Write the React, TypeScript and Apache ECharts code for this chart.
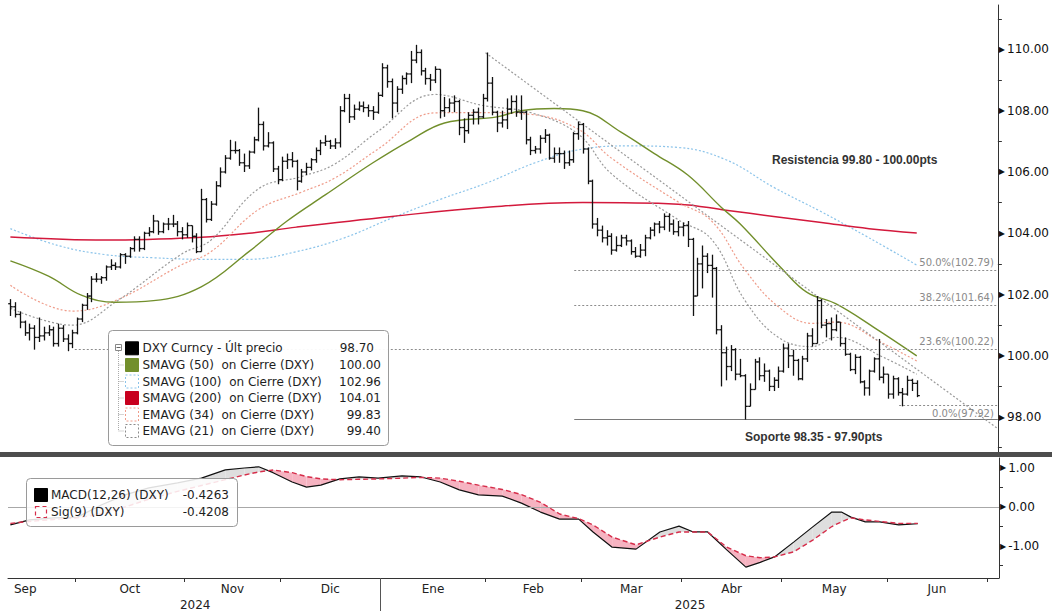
import React, { useEffect, useRef } from 'react';
import * as echarts from 'echarts';

// ---- price bars (trading-day index 0 = 11 Sep 2024) ----
const opens = [101.70,101.60,101.35,101.10,100.75,100.90,100.60,100.65,100.75,100.85,100.40,100.90,100.55,100.40,
100.75,101.20,101.65,101.95,102.50,102.50,102.55,102.90,102.95,102.90,103.30,103.25,103.50,103.80,103.50,104.00,104.05,104.40,104.05,104.30,104.30,104.30,104.05,
103.95,104.25,103.90,103.40,105.10,104.45,104.95,105.55,106.00,106.45,106.70,106.70,106.30,106.20,106.65,107.05,107.55,106.85,106.95,106.10,
105.75,106.35,106.40,106.35,105.70,106.00,106.15,106.40,106.70,106.95,107.00,106.85,106.95,108.00,108.40,107.80,108.05,108.15,108.10,108.00,107.95,
108.50,109.40,108.95,108.25,108.70,109.05,109.20,109.65,109.90,109.30,109.05,109.00,109.35,108.00,108.10,108.25,108.30,107.45,107.35,107.85,107.95,107.80,
108.40,108.90,107.95,107.60,107.70,108.05,108.30,107.95,107.95,107.05,106.70,106.75,107.10,107.20,106.45,106.60,106.60,106.30,106.40,107.25,
107.55,106.75,105.70,104.30,104.10,103.85,103.90,103.45,103.60,103.85,103.75,103.40,103.25,103.45,103.85,104.10,104.30,104.20,104.55,104.30,104.05,
104.20,104.25,103.80,101.95,103.00,103.25,102.95,102.85,100.85,100.10,99.65,100.20,99.40,99.35,98.35,98.90,99.80,99.35,99.50,99.00,99.20,
99.50,100.25,100.00,99.85,99.25,99.90,100.65,100.40,101.80,101.00,101.05,100.85,101.10,100.40,100.05,99.55,99.95,99.15,98.95,99.50,99.90,99.30,
99.40,98.75,99.25,98.80,98.75,99.20,99.10];
const highs = [101.85,101.75,101.45,101.15,101.05,101.00,101.25,100.95,101.00,100.95,101.05,101.00,100.70,100.85,
101.25,101.70,102.05,102.60,102.70,102.60,102.95,103.15,103.05,103.35,103.35,103.55,103.90,103.90,104.05,104.20,104.60,104.40,104.35,104.50,104.60,104.40,104.20,
104.35,104.25,104.00,105.45,105.15,105.05,105.70,106.15,106.55,107.05,107.00,106.75,106.60,106.70,107.15,108.10,107.65,107.30,107.00,106.20,
106.50,106.60,106.65,106.40,106.10,106.30,106.45,106.80,107.05,107.20,107.05,107.10,108.15,108.55,108.55,108.20,108.30,108.30,108.20,108.15,108.60,
109.55,109.50,109.05,108.80,109.15,109.25,109.95,110.15,110.00,109.40,109.20,109.45,109.35,108.45,108.40,108.50,108.35,107.75,107.95,108.05,108.10,108.55,
109.90,109.10,108.00,108.00,108.40,108.50,108.50,108.50,108.00,107.15,106.85,107.20,107.40,107.25,106.80,106.80,106.70,106.70,107.30,107.65,
107.60,106.80,105.75,104.50,104.25,104.10,104.00,103.90,103.95,103.95,103.80,103.55,103.65,103.95,104.20,104.35,104.40,104.65,104.65,104.45,104.40,
104.35,104.40,103.85,103.20,103.60,103.35,103.30,102.90,101.00,100.30,100.35,100.25,99.90,99.40,99.10,99.90,99.95,99.75,99.55,99.30,99.65,
100.40,100.40,100.20,99.90,100.00,100.75,100.90,101.95,101.85,101.20,101.25,101.35,101.10,100.60,100.10,100.05,100.00,99.20,99.55,99.95,100.55,99.65,
99.40,99.35,99.30,98.95,99.35,99.25,99.20];
const lows = [101.30,101.25,100.90,100.65,100.50,100.20,100.45,100.50,100.65,100.30,100.30,100.45,100.15,100.25,
100.70,101.10,101.50,101.75,102.40,102.35,102.45,102.80,102.80,102.85,103.00,103.20,103.40,103.40,103.45,103.90,104.00,103.95,104.00,104.10,104.20,103.90,103.80,
103.85,103.70,103.35,103.40,104.35,104.40,104.90,105.50,105.95,106.40,106.60,106.20,106.00,106.10,106.60,107.00,106.70,106.80,106.00,105.60,
105.70,106.10,106.15,105.40,105.65,105.90,106.05,106.30,106.55,106.85,106.75,106.75,106.80,107.95,107.60,107.70,108.00,107.95,107.80,107.70,107.90,
108.45,108.75,107.75,107.95,108.55,108.85,108.90,109.55,109.15,108.85,108.65,108.90,107.75,107.80,107.95,107.95,107.20,106.95,107.25,107.55,107.55,107.75,
108.30,107.85,107.30,107.45,107.40,107.90,107.80,107.70,106.90,106.55,106.60,106.60,106.95,106.40,106.30,106.30,106.10,106.20,106.30,107.05,
106.60,105.60,104.15,103.90,103.70,103.60,103.30,103.40,103.55,103.60,103.30,103.20,103.20,103.25,103.80,103.90,104.00,104.10,104.05,103.95,103.90,
103.90,103.55,101.30,101.95,102.20,102.70,101.90,100.70,99.00,99.20,99.50,99.20,99.30,97.92,98.35,98.90,99.20,99.15,98.85,98.85,98.95,
99.45,99.60,99.35,99.20,99.20,99.80,100.30,100.40,100.90,100.60,100.50,100.80,100.30,100.00,99.50,99.40,99.10,98.70,98.70,99.45,99.20,99.10,
98.60,98.60,98.70,98.35,98.70,98.85,98.65];
const closes = [101.60,101.35,101.10,100.75,100.90,100.60,100.65,100.75,100.85,100.40,100.90,100.55,100.40,100.75,
101.20,101.65,101.95,102.50,102.50,102.55,102.90,102.95,102.90,103.30,103.25,103.50,103.80,103.50,104.00,104.05,104.40,104.05,104.30,104.30,104.30,104.05,103.95,
104.25,103.90,103.40,105.10,104.45,104.95,105.55,106.00,106.45,106.70,106.70,106.30,106.20,106.65,107.05,107.55,106.85,106.95,106.10,105.75,
106.35,106.40,106.35,105.70,106.00,106.15,106.40,106.70,106.95,107.00,106.85,106.95,108.00,108.40,107.80,108.05,108.15,108.10,108.00,107.95,108.50,
109.40,108.95,108.25,108.70,109.05,109.20,109.65,109.90,109.30,109.05,109.00,109.35,108.00,108.10,108.25,108.30,107.45,107.35,107.85,107.95,107.80,108.40,
108.90,107.95,107.60,107.70,108.05,108.30,107.95,107.95,107.05,106.70,106.75,107.10,107.20,106.45,106.60,106.60,106.30,106.40,107.25,107.55,
106.75,105.70,104.30,104.10,103.85,103.90,103.45,103.60,103.85,103.75,103.40,103.25,103.45,103.85,104.10,104.30,104.20,104.55,104.30,104.05,104.20,
104.25,103.80,101.95,103.00,103.25,102.95,102.85,100.85,100.10,99.65,100.20,99.40,99.35,98.35,98.90,99.80,99.35,99.50,99.00,99.20,99.50,
100.25,100.00,99.85,99.25,99.90,100.65,100.40,101.80,101.00,101.05,100.85,101.10,100.40,100.05,99.55,99.95,99.15,98.95,99.50,99.90,99.30,99.40,
98.75,99.25,98.80,98.75,99.20,99.10,98.70];

// ---- moving averages (trading-day index / value) ----
const sma50Idx = [0,8,15,22,30,40,50,58,66,76,84,91,102,107,114,120,128,135,142,149,153,162,167,173,181,190];
const sma50Val = [103.1,102.6,101.97,101.75,101.8,102.25,103.4,104.4,105.25,106.3,107.05,107.6,107.8,108.0,108.07,108.0,107.3,106.6,105.9,104.85,104.3,102.8,102.07,101.7,100.93,100.0];
const sma100Idx = [0,10,20,30,40,50,60,70,80,90,100,110,120,130,140,150,160,170,180,190];
const sma100Val = [104.15,103.6,103.3,103.2,103.15,103.15,103.4,103.85,104.5,105.1,105.65,106.3,106.75,106.85,106.8,106.4,105.5,104.7,103.85,102.96];
const sma200Idx = [0,20,40,50,60,80,100,120,140,150,160,170,180,190];
const sma200Val = [103.88,103.78,103.87,104.0,104.2,104.55,104.85,105.0,104.95,104.75,104.55,104.35,104.15,104.01];
const emaIdx = [0,13,22,36,42,52,61,68,77,89,99,109,119,126,140,147,154,161,168,173,183,190];
const ema21Val = [101.55,101.0,101.75,103.33,103.77,105.45,105.85,106.26,107.32,108.53,108.17,107.94,107.24,105.94,104.44,103.8,101.8,100.6,100.3,100.6,99.95,99.4];
const ema34Val = [102.3,101.46,101.8,102.98,103.39,104.77,105.34,105.8,106.74,107.93,107.94,107.88,107.4,106.45,105.02,104.4,102.8,101.6,101.06,101.1,100.4,99.83];

// ---- MACD panel ----
const macdIdx = [0,4,9,14,19,24,29,35,40,45,49,52,55,59,62,65,69,73,77,82,86,90,94,98,103,107,111,115,119,122,126,131,136,140,143,146,150,154,157,160,164,168,172,174,176,179,182,186,190];
const macdVal = [-0.46,-0.33,-0.28,-0.26,0.05,0.31,0.49,0.62,0.74,0.95,1.0,1.03,0.88,0.64,0.51,0.56,0.72,0.77,0.74,0.8,0.77,0.64,0.44,0.31,0.28,0.1,-0.13,-0.31,-0.31,-0.64,-1.03,-1.08,-0.64,-0.49,-0.64,-0.64,-1.1,-1.54,-1.42,-1.28,-0.9,-0.51,-0.13,-0.13,-0.26,-0.38,-0.38,-0.46,-0.43];
const sigVal = [-0.42,-0.37,-0.32,-0.28,-0.18,0.0,0.2,0.4,0.55,0.7,0.82,0.9,0.95,0.88,0.78,0.72,0.7,0.71,0.72,0.74,0.76,0.74,0.66,0.56,0.45,0.32,0.12,-0.18,-0.3,-0.46,-0.77,-0.97,-0.77,-0.64,-0.64,-0.64,-1.03,-1.25,-1.3,-1.28,-1.15,-0.85,-0.5,-0.38,-0.28,-0.33,-0.37,-0.42,-0.42];

// ---- axes ----
const monthTicks = [13.5,36.5,56.5,77.5,99.5,119.5,140.5,161.5,183.5,204.5];
const monthLabelPos = [3.1,25,46.5,67,88.5,109.5,130,151,172.5,194];
const monthLabels = ['Sep','Oct','Nov','Dic','Ene','Feb','Mar','Abr','May','Jun'];
const yearLabelPos = [38.7,142.3];
const yearLabels = ['2024','2025'];
const yearSeparator = [77.5];
const priceTicks = [98,100,102,104,106,108,110];
const priceMinorTicks = [97,99,101,103,105,107,109,111];
const macdTicks = [1,0,-1];
const macdMinorTicks = [0.5,-0.5,-1.5];

// ---- studies ----
const fibNames = ['50.0%(102.79)','38.2%(101.64)','23.6%(100.22)','0.0%(97.92)'];
const fibLevels = [102.79,101.64,100.22,98.37];
const fibStart = [118.2,118.2,13.5,186.3];
const supportLevel = 97.92;
const supportStart = 118.2;
const trendStart = [99.6,109.89];
const trendEnd = [207,97.62];

const legendNames = ['DXY Curncy - Últ precio','SMAVG (50)\u00a0 on Cierre (DXY)','SMAVG (100)\u00a0 on Cierre (DXY)','SMAVG (200)\u00a0 on Cierre (DXY)','EMAVG (34)\u00a0 on Cierre (DXY)','EMAVG (21)\u00a0 on Cierre (DXY)'];
const legendValues = ['98.70','100.00','102.96','104.01','99.83','99.40'];
const macdLegendNames = ['MACD(12,26) (DXY)','Sig(9) (DXY)'];
const macdLegendValues = ['-0.4263','-0.4208'];

const FONT = '"DejaVu Sans", sans-serif';
const C_SMA50 = '#728f2c';
const C_SMA100 = '#8cc4ea';
const C_SMA200 = '#d3193c';
const C_EMA34 = '#ef9c8a';
const C_EMA21 = '#9a9a9a';
const PINK = '#f6b3c1';
const LGRAY = '#dedede';

const pairs = (xs: number[], vs: number[]) => xs.map((x, i) => [x, vs[i]]);

function buildOption() {
  const bars = closes.map((c, i) => [i, opens[i], c, lows[i], highs[i]]);
  const fillData = macdIdx.slice(0, -1).map((x, k) => [x, macdVal[k], sigVal[k], macdIdx[k + 1], macdVal[k + 1], sigVal[k + 1]]);
  const axisLabelRight = (v: number) => '{t|\u25B6}' + v.toFixed(2);

  const fibLines: any[] = fibLevels.map((lv, k) => [
    {
      coord: [fibStart[k], lv],
      lineStyle: { color: '#8c8c8c', type: [2, 2], width: 1 },
      label: {
        show: true,
        formatter: fibNames[k],
        position: k === 3 ? 'insideEndBottom' : 'insideEndTop',
        color: '#8a8a8a',
        fontSize: 10,
        fontFamily: FONT,
        distance: [4, 3],
      },
    },
    { coord: [207, lv] },
  ]);
  fibLines.push([
    { coord: [supportStart, supportLevel], lineStyle: { color: '#7a7a7a', type: 'solid', width: 1 }, label: { show: false } },
    { coord: [207, supportLevel] },
  ]);
  fibLines.push([
    { coord: trendStart, lineStyle: { color: '#9a9a9a', type: [2, 2], width: 1.2 }, label: { show: false } },
    { coord: trendEnd },
  ]);

  const ZL = 100;
  const legendRowY = [348.3, 365, 381.5, 398, 414.5, 431];
  const legendChildren: any[] = [
    { type: 'rect', z: ZL, shape: { x: 108.5, y: 330.5, width: 280, height: 115, r: 4 }, style: { fill: 'rgba(255,255,255,0.95)', stroke: '#9a9a9a', lineWidth: 1 } },
    { type: 'line', z: ZL + 1, shape: { x1: 118.5, y1: 351, x2: 118.5, y2: 431 }, style: { stroke: '#aaa', lineWidth: 1, lineDash: [1, 1] } },
    { type: 'rect', z: ZL + 1, shape: { x: 115.5, y: 344.5, width: 6, height: 6 }, style: { fill: '#fff', stroke: '#888', lineWidth: 1 } },
    { type: 'line', z: ZL + 2, shape: { x1: 116.5, y1: 347.5, x2: 120.5, y2: 347.5 }, style: { stroke: '#666', lineWidth: 1 } },
  ];
  const iconStyles: any[] = [
    { fill: '#000', stroke: '#000' },
    { fill: C_SMA50, stroke: C_SMA50 },
    { fill: '#fff', stroke: C_SMA100, lineDash: [2, 2] },
    { fill: '#c8001e', stroke: '#c8001e' },
    { fill: '#fff', stroke: C_EMA34, lineDash: [2, 2] },
    { fill: '#fff', stroke: '#8a8a8a', lineDash: [2, 2] },
  ];
  legendNames.forEach((name, k) => {
    const y = legendRowY[k];
    if (k > 0) legendChildren.push({ type: 'line', z: ZL + 1, shape: { x1: 118.5, y1: y, x2: 124, y2: y }, style: { stroke: '#aaa', lineWidth: 1, lineDash: [1, 1] } });
    legendChildren.push({ type: 'rect', z: ZL + 1, shape: { x: 125.5, y: y - 6.5, width: 13, height: 13 }, style: { lineWidth: 1, ...iconStyles[k] } });
    legendChildren.push({ type: 'text', z: ZL + 2, style: { text: name, x: 142.5, y, font: '12px ' + FONT, fill: '#1e1e1e', align: 'left', verticalAlign: 'middle' } });
    legendChildren.push({ type: 'text', z: ZL + 2, style: { text: legendValues[k], x: k === 0 ? 374 : 381, y, font: '12px ' + FONT, fill: '#1e1e1e', align: 'right', verticalAlign: 'middle' } });
  });

  const macdLegendChildren: any[] = [
    { type: 'rect', z: ZL, shape: { x: 26.5, y: 478.5, width: 211, height: 48, r: 4 }, style: { fill: 'rgba(255,255,255,0.86)', stroke: '#9a9a9a', lineWidth: 1 } },
    { type: 'rect', z: ZL + 1, shape: { x: 34.5, y: 488.5, width: 13, height: 13 }, style: { fill: '#000', stroke: '#000' } },
    { type: 'rect', z: ZL + 1, shape: { x: 35.5, y: 506.5, width: 11, height: 11 }, style: { fill: 'none', stroke: '#d62d4a', lineWidth: 1.2, lineDash: [4, 3] } },
  ];
  [495, 512].forEach((y, k) => {
    macdLegendChildren.push({ type: 'text', z: ZL + 2, style: { text: macdLegendNames[k], x: 51, y, font: '12px ' + FONT, fill: '#1e1e1e', align: 'left', verticalAlign: 'middle' } });
    macdLegendChildren.push({ type: 'text', z: ZL + 2, style: { text: macdLegendValues[k], x: 229, y, font: '12px ' + FONT, fill: '#1e1e1e', align: 'right', verticalAlign: 'middle' } });
  });

  const annFont = 'bold 12px "Liberation Sans Narrow", "Liberation Sans", sans-serif';

  return {
    animation: false,
    backgroundColor: '#ffffff',
    textStyle: { fontFamily: FONT },
    grid: [
      { left: 8, top: 5, width: 991, height: 447 },
      { left: 8, top: 458, width: 991, height: 120 },
    ],
    xAxis: [
      { gridIndex: 0, type: 'value', min: -0.5, max: 207, axisLine: { show: false }, axisTick: { show: false }, axisLabel: { show: false }, splitLine: { show: false } },
      {
        gridIndex: 1, type: 'value', min: -0.5, max: 207, position: 'bottom',
        axisLine: { show: true, onZero: false, lineStyle: { color: '#333', width: 1 } },
        axisTick: { show: true, customValues: monthTicks, length: 4, lineStyle: { color: '#333' } },
        axisLabel: {
          show: true, customValues: monthLabelPos, margin: 5, fontSize: 12, color: '#222', fontFamily: FONT,
          formatter: (v: number) => { const k = monthLabelPos.findIndex((p) => Math.abs(p - v) < 0.01); return k >= 0 ? monthLabels[k] : ''; },
        },
        splitLine: { show: false },
      },
      {
        gridIndex: 1, type: 'value', min: -0.5, max: 207, position: 'bottom', offset: 0,
        axisLine: { show: false, onZero: false },
        axisTick: { show: true, customValues: yearSeparator, length: 34, lineStyle: { color: '#555' } },
        axisLabel: {
          show: true, customValues: yearLabelPos, margin: 21, fontSize: 12, color: '#222', fontFamily: FONT,
          formatter: (v: number) => { const k = yearLabelPos.findIndex((p) => Math.abs(p - v) < 0.01); return k >= 0 ? yearLabels[k] : ''; },
        },
        splitLine: { show: false },
      },
    ],
    yAxis: [
      {
        gridIndex: 0, type: 'value', position: 'right', min: 96.86, max: 111.45, scale: true,
        axisLine: { show: true, onZero: false, lineStyle: { color: '#333', width: 1 } },
        axisTick: { show: true, customValues: priceMinorTicks, length: 4, lineStyle: { color: '#333' } },
        axisLabel: {
          show: true, customValues: priceTicks, margin: 1, fontSize: 12, color: '#111', fontFamily: FONT,
          formatter: axisLabelRight,
          rich: { t: { fontSize: 8, color: '#111', padding: [0, 2, 0, 0], fontFamily: FONT } },
        },
        splitLine: { show: false },
      },
      {
        gridIndex: 1, type: 'value', position: 'right', min: -1.82, max: 1.256,
        axisLine: { show: true, onZero: false, lineStyle: { color: '#333', width: 1 } },
        axisTick: { show: true, customValues: macdMinorTicks, length: 4, lineStyle: { color: '#333' } },
        axisLabel: {
          show: true, customValues: macdTicks, margin: 1, fontSize: 12, color: '#111', fontFamily: FONT,
          formatter: axisLabelRight,
          rich: { t: { fontSize: 8, color: '#111', padding: [0, 2, 0, 0], fontFamily: FONT } },
        },
        splitLine: { show: false },
      },
    ],
    series: [
      { name: 'SMA100', type: 'line', xAxisIndex: 0, yAxisIndex: 0, data: pairs(sma100Idx, sma100Val), symbol: 'none', smooth: 0.4, lineStyle: { color: C_SMA100, width: 1.2, type: [2, 2] }, z: 2 },
      {
        name: 'SMA200', type: 'line', xAxisIndex: 0, yAxisIndex: 0, data: pairs(sma200Idx, sma200Val), symbol: 'none', smooth: 0.4, lineStyle: { color: C_SMA200, width: 1.5 }, z: 2,
        markLine: { silent: true, symbol: ['none', 'none'], animation: false, data: fibLines },
      },
      { name: 'EMA34', type: 'line', xAxisIndex: 0, yAxisIndex: 0, data: pairs(emaIdx, ema34Val), symbol: 'none', smooth: 0.4, lineStyle: { color: C_EMA34, width: 1.2, type: [2, 2] }, z: 2 },
      { name: 'EMA21', type: 'line', xAxisIndex: 0, yAxisIndex: 0, data: pairs(emaIdx, ema21Val), symbol: 'none', smooth: 0.4, lineStyle: { color: C_EMA21, width: 1.2, type: [2, 2] }, z: 2 },
      { name: 'SMA50', type: 'line', xAxisIndex: 0, yAxisIndex: 0, data: pairs(sma50Idx, sma50Val), symbol: 'none', smooth: 0.4, lineStyle: { color: C_SMA50, width: 1.4 }, z: 3 },
      {
        name: 'DXY', type: 'custom', xAxisIndex: 0, yAxisIndex: 0, data: bars, encode: { x: 0, y: [1, 2, 3, 4] }, z: 5,
        renderItem: (params: any, api: any) => {
          const i = api.value(0);
          const pO = api.coord([i, api.value(1)]);
          const pC = api.coord([i, api.value(2)]);
          const pL = api.coord([i, api.value(3)]);
          const pH = api.coord([i, api.value(4)]);
          const x = Math.round(pH[0]) + 0.5;
          const st = { stroke: '#111', lineWidth: 1.3 };
          return {
            type: 'group',
            children: [
              { type: 'line', shape: { x1: x, y1: pH[1], x2: x, y2: pL[1] }, style: st },
              { type: 'line', shape: { x1: x - 2.3, y1: pO[1], x2: x, y2: pO[1] }, style: st },
              { type: 'line', shape: { x1: x, y1: pC[1], x2: x + 2.3, y2: pC[1] }, style: st },
            ],
          };
        },
      },
      {
        name: 'fill', type: 'custom', xAxisIndex: 1, yAxisIndex: 1, data: fillData, encode: { x: [0, 3], y: [1, 2, 4, 5] }, z: 1, silent: true,
        renderItem: (params: any, api: any) => {
          const x0 = api.value(0), m0 = api.value(1), s0 = api.value(2), x1 = api.value(3), m1 = api.value(4), s1 = api.value(5);
          const d0 = m0 - s0, d1 = m1 - s1;
          const poly = (pts: number[][], d: number) => ({ type: 'polygon', shape: { points: pts.map((p) => api.coord(p)) }, style: { fill: d < 0 ? PINK : LGRAY } });
          if (d0 * d1 < 0) {
            const t = d0 / (d0 - d1);
            const xc = x0 + t * (x1 - x0);
            const yc = m0 + t * (m1 - m0);
            return { type: 'group', children: [poly([[x0, m0], [xc, yc], [x0, s0]], d0), poly([[xc, yc], [x1, m1], [x1, s1]], d1)] };
          }
          return poly([[x0, m0], [x1, m1], [x1, s1], [x0, s0]], d0 !== 0 ? d0 : d1);
        },
      },
      {
        name: 'MACD', type: 'line', xAxisIndex: 1, yAxisIndex: 1, data: pairs(macdIdx, macdVal), symbol: 'none', lineStyle: { color: '#111', width: 1.2 }, z: 4,
        markLine: { silent: true, symbol: ['none', 'none'], animation: false, label: { show: false }, lineStyle: { color: '#a8a8a8', type: 'solid', width: 1 }, data: [{ yAxis: 0 }] },
      },
      { name: 'Sig', type: 'line', xAxisIndex: 1, yAxisIndex: 1, data: pairs(macdIdx, sigVal), symbol: 'none', lineStyle: { color: '#d62d4a', width: 1.4, type: [5, 3] }, z: 5 },
    ],
    graphic: [
      { type: 'rect', z: 50, shape: { x: 0, y: 452, width: 1052, height: 5 }, style: { fill: '#4d4d4d' } },
      { type: 'group', z: ZL, children: legendChildren },
      { type: 'group', z: ZL, children: macdLegendChildren },
      { type: 'text', z: ZL, style: { text: 'Resistencia 99.80 - 100.00pts', x: 772, y: 160, font: annFont, fill: '#333', align: 'left', verticalAlign: 'middle' } },
      { type: 'text', z: ZL, style: { text: 'Soporte 98.35 - 97.90pts', x: 745, y: 437, font: annFont, fill: '#333', align: 'left', verticalAlign: 'middle' } },
    ],
  };
}

export default function App() {
  const ref = useRef<HTMLDivElement>(null);
  useEffect(() => {
    const chart = echarts.init(ref.current as HTMLDivElement, null, { renderer: 'svg' });
    chart.setOption(buildOption() as any);
    return () => chart.dispose();
  }, []);
  return <div ref={ref} style={{ position: 'fixed', left: 0, top: 0, width: 1052, height: 611, background: '#fff' }} />;
}
